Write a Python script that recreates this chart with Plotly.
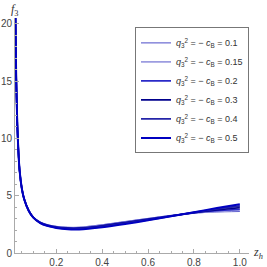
import plotly.graph_objects as go

z = [0.021, 0.025, 0.03, 0.035, 0.04, 0.05, 0.06, 0.08, 0.1, 0.13, 0.16, 0.2, 0.25, 0.3, 0.4, 0.5, 0.6, 0.7, 0.8, 0.9, 1.0]
head = [22, 15.5, 11.2, 8.8, 7.2, 5.6, 4.7]

params = ["0.1", "0.15", "0.2", "0.3", "0.4", "0.5"]
f3_01 = head + [3.72, 3.13, 2.70, 2.48, 2.32, 2.24, 2.25, 2.47, 2.75, 3.02, 3.27, 3.48, 3.58, 3.62]
f3_015 = head + [3.71, 3.12, 2.68, 2.46, 2.30, 2.21, 2.22, 2.43, 2.71, 2.99, 3.26, 3.49, 3.63, 3.72]
f3_02 = head + [3.70, 3.11, 2.67, 2.44, 2.28, 2.19, 2.19, 2.40, 2.68, 2.97, 3.25, 3.50, 3.68, 3.82]
f3_03 = head + [3.69, 3.10, 2.65, 2.42, 2.25, 2.15, 2.15, 2.35, 2.63, 2.93, 3.23, 3.52, 3.76, 3.96]
f3_04 = head + [3.68, 3.09, 2.63, 2.39, 2.22, 2.11, 2.10, 2.30, 2.58, 2.89, 3.21, 3.54, 3.84, 4.10]
f3_05 = head + [3.67, 3.08, 2.61, 2.37, 2.19, 2.07, 2.06, 2.25, 2.53, 2.85, 3.20, 3.56, 3.92, 4.25]
series = [f3_01, f3_015, f3_02, f3_03, f3_04, f3_05]

colors = ["#4a4ac8", "#9c9ce0", "#2a2ac8", "#00008c", "#2525a8", "#0000c0"]
widths = [1.0, 1.6, 1.6, 1.6, 1.8, 2.0]

fig = go.Figure()
for p, ys, c, w in zip(params, series, colors, widths):
    fig.add_trace(go.Scatter(
        x=z, y=ys, mode="lines", line=dict(color=c, width=w, shape="spline", smoothing=0.6),
        name="<i>q</i><sub>3</sub><sup>2</sup> = − <i>c</i><sub>B</sub> = " + p,
    ))

axis_common = dict(
    showgrid=False, zeroline=False, showline=True, linecolor="#aaaaaa", linewidth=1,
    ticks="inside", ticklen=4, tickcolor="#aaaaaa", automargin=False,
    tickfont=dict(family="Liberation Sans, Arial", size=10, color="#444444"),
)
fig.update_xaxes(range=[0.02, 1.04], tickvals=[0.2, 0.4, 0.6, 0.8, 1.0], ticktext=["0.2", "0.4", "0.6", "0.8", "1.0"],
                 minor=dict(dtick=0.05, tick0=0, ticks="inside", ticklen=2, tickcolor="#aaaaaa"), **axis_common)
fig.update_yaxes(range=[0, 20.5], tickvals=[0, 5, 10, 15, 20],
                 minor=dict(dtick=1, tick0=0, ticks="inside", ticklen=2, tickcolor="#aaaaaa"), **axis_common)

fig.add_annotation(xref="paper", yref="paper", x=0, y=1, xanchor="center", yanchor="bottom", yshift=-2,
                   text="<i>f</i><sub>3</sub>", showarrow=False,
                   font=dict(family="Liberation Serif, Times New Roman", size=12, color="#333333"))
fig.add_annotation(xref="paper", yref="paper", x=1, y=0, xanchor="left", yanchor="middle", xshift=2,
                   text="<i>z</i><sub><i>h</i></sub>", showarrow=False,
                   font=dict(family="Liberation Serif, Times New Roman", size=12, color="#333333"))

fig.update_layout(
    width=267, height=267, margin=dict(l=15, r=18, t=18, b=14, autoexpand=False),
    paper_bgcolor="white", plot_bgcolor="white",
    showlegend=True,
    legend=dict(x=1.0, y=0.96, xanchor="right", yanchor="top", bgcolor="white",
                bordercolor="#777777", borderwidth=1,
                font=dict(family="Liberation Sans, Arial", size=9, color="#333333"),
                itemwidth=30, tracegroupgap=0),
)
fig.write_html("out.html", config={"displayModeBar": False},
               post_script="document.body.style.margin='0';")
